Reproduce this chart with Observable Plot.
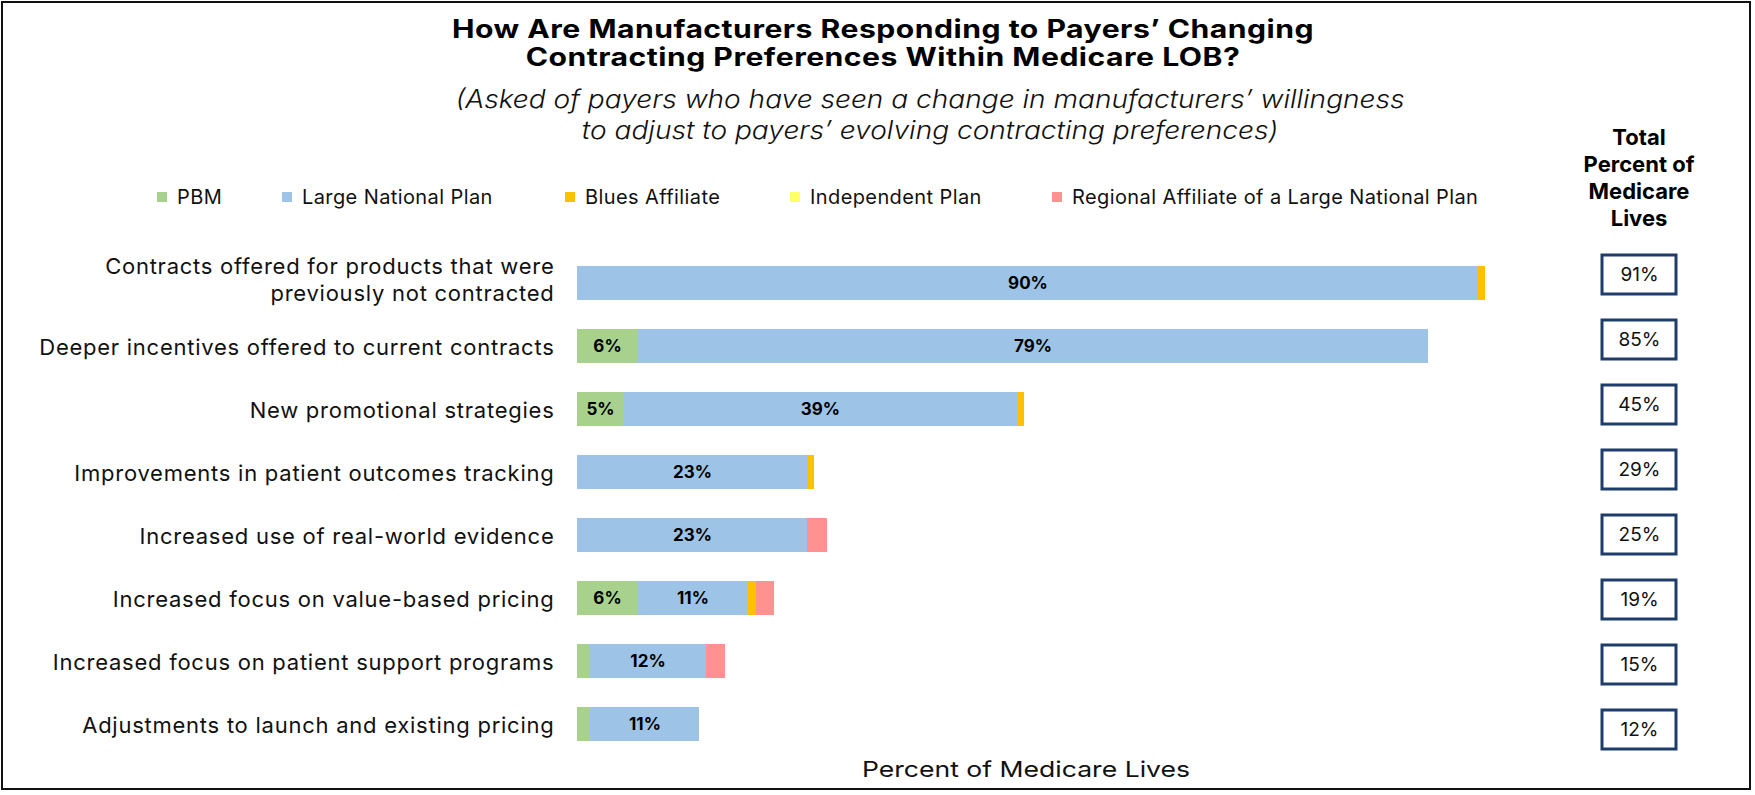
<!DOCTYPE html>
<html>
<head>
<meta charset="utf-8">
<script src="https://cdn.jsdelivr.net/npm/d3@7"></script>
<script src="https://cdn.jsdelivr.net/npm/@observablehq/plot@0.6"></script>
<style>
  html, body { margin: 0; padding: 0; background: #fff; }
  body { font-family: Inter, "Noto Sans", sans-serif; color: #111; }
  #wrap { position: relative; width: 1755px; height: 795px; overflow: hidden; background: #fff; }
  #frame { position: absolute; left: 1px; top: 1px; width: 1750px; height: 789px; box-sizing: border-box; border: 2px solid #111; }
  .abs { position: absolute; }
  .line { display: inline-block; white-space: nowrap; }
  #title { left: -117px; width: 2000px; top: 15px; text-align: center; font-weight: 700; font-size: 25px; line-height: 28px; color: #000; letter-spacing: 0.4px; transform-origin: 50% 0; }
  #subtitle { left: -70px; width: 2000px; top: 84px; text-align: center; font-style: italic; font-weight: 300; font-size: 25px; line-height: 31px; color: #111; transform-origin: 50% 0; }
  #legend { left: 0; top: 186px; width: 1500px; height: 22px; font-size: 20px; letter-spacing: 0.4px; color: #111; }
  #legend .item { position: absolute; top: 0; height: 22px; display: flex; align-items: center; white-space: nowrap; }
  #legend .sw { width: 10px; height: 10px; margin-right: 10px; }
  #header { left: 1539px; width: 200px; top: 124px; text-align: center; font-weight: 700; font-size: 22px; line-height: 27px; color: #000; }
  #xlabel { left: 526px; width: 1000px; top: 755px; text-align: center; font-size: 22px; line-height: 28px; color: #111; transform-origin: 50% 0; }
  #main { left: 0; top: 0; }
  #totals { left: 1599px; top: 0; }
</style>
</head>
<body>
<div id="wrap">
  <div id="frame" class="abs"></div>
  <div id="title" class="abs"><span class="line">How Are Manufacturers Responding to Payers’ Changing</span><br><span class="line">Contracting Preferences Within Medicare LOB?</span></div>
  <div id="subtitle" class="abs"><span class="line">(Asked of payers who have seen a change in manufacturers’ willingness</span><br><span class="line">to adjust to payers’ evolving contracting preferences)</span></div>
  <div id="legend" class="abs"></div>
  <div id="header" class="abs">Total<br>Percent of<br>Medicare<br>Lives</div>
  <div id="xlabel" class="abs"><span class="line">Percent of Medicare Lives</span></div>
  <div id="main" class="abs"></div>
  <div id="totals" class="abs"></div>
</div>
<script>
const categories = [
  "Contracts offered for products that were\npreviously not contracted",
  "Deeper incentives offered to current contracts",
  "New promotional strategies",
  "Improvements in patient outcomes tracking",
  "Increased use of real-world evidence",
  "Increased focus on value-based pricing",
  "Increased focus on patient support programs",
  "Adjustments to launch and existing pricing"
];
const series = ["PBM", "Large National Plan", "Blues Affiliate", "Independent Plan", "Regional Affiliate of a Large National Plan"];
const seriesColors = ["#A9D18E", "#9DC3E6", "#FFC000", "#FFFF66", "#FF9191"];

const pbm         = [0,    6.0,  4.6,  0,    0,    6.0,  1.2,  1.3];
const largeNational = [90.1, 79.1, 39.4, 23.0, 23.0, 11.1, 11.7, 10.9];
const bluesAffiliate = [0.7, 0,    0.7,  0.7,  0,    0.8,  0,    0];
const independentPlan = [0,  0,    0,    0,    0,    0,    0,    0];
const regionalAffiliate = [0, 0,   0,    0,    2.0,  1.8,  1.9,  0];
const totalPercent = [91, 85, 45, 29, 25, 19, 15, 12];

const seriesValues = [pbm, largeNational, bluesAffiliate, independentPlan, regionalAffiliate];

const rows = [];
categories.forEach((c, i) => {
  series.forEach((s, j) => rows.push({category: c, series: s, value: seriesValues[j][i]}));
});
const totalRows = categories.map((c, i) => ({category: c, total: totalPercent[i]}));

// legend (layout: left edge of each legend item's swatch, in px)
const legendLeft = [157, 282, 565, 790, 1052];
const legend = document.getElementById("legend");
series.forEach((s, j) => {
  const it = document.createElement("div");
  it.className = "item";
  it.style.left = legendLeft[j] + "px";
  it.innerHTML = `<span class="sw" style="background:${seriesColors[j]}"></span><span>${s}</span>`;
  legend.appendChild(it);
});

// stretch text blocks horizontally so their first line spans the reference width
function fitWidth(id, target) {
  const el = document.getElementById(id);
  const w = el.querySelector(".line").getBoundingClientRect().width;
  if (w > 0) el.style.transform = `scaleX(${target / w})`;
}
fitWidth("title", 862);
fitWidth("subtitle", 949);
fitWidth("xlabel", 328);

const font = "Inter, 'Noto Sans', sans-serif";

const main = Plot.plot({
  width: 1755,
  height: 795,
  marginTop: 237,
  marginBottom: 24,
  marginLeft: 577,
  marginRight: 178,
  style: {fontFamily: font, fontSize: "21px", color: "#111", background: "transparent"},
  x: {domain: [0, 100], axis: null},
  y: {domain: categories, padding: 0.46, label: null},
  color: {domain: series, range: seriesColors},
  marks: [
    Plot.barX(rows, Plot.stackX({x: "value", y: "category", fill: "series", order: series})),
    Plot.text(rows, Plot.stackX({
      x: "value", y: "category", z: "series", order: series,
      text: d => d.value >= 4 ? Math.round(d.value) + "%" : "",
      fontSize: 17, fontWeight: 700, fill: "#000"
    })),
    Plot.axisY({tickSize: 0, tickPadding: 23, fontSize: 22, lineHeight: 1.26, label: null, fill: "#111"})
  ]
});
main.querySelectorAll('g[aria-label="y-axis tick label"]').forEach(g => {
  g.style.letterSpacing = "0.75px";
  // the two-line label sits slightly above its bar in the reference
  g.querySelectorAll("text").forEach(t => {
    if (t.querySelectorAll("tspan").length > 1) {
      t.setAttribute("transform", (t.getAttribute("transform") || "") + " translate(0,-5)");
    }
  });
});
document.getElementById("main").appendChild(main);

const totals = Plot.plot({
  width: 80,
  height: 795,
  marginTop: 226,
  marginBottom: 17,
  marginLeft: 3,
  marginRight: 3,
  style: {fontFamily: font, fontSize: "19px", background: "transparent"},
  y: {domain: categories, padding: 0.405, axis: null},
  marks: [
    Plot.cell(totalRows, {y: "category", fill: "white", stroke: "#1F3D6B", strokeWidth: 3}),
    Plot.text(totalRows, {y: "category", text: d => d.total + "%", fontSize: 19, fill: "#111"})
  ]
});
document.getElementById("totals").appendChild(totals);
</script>
</body>
</html>
